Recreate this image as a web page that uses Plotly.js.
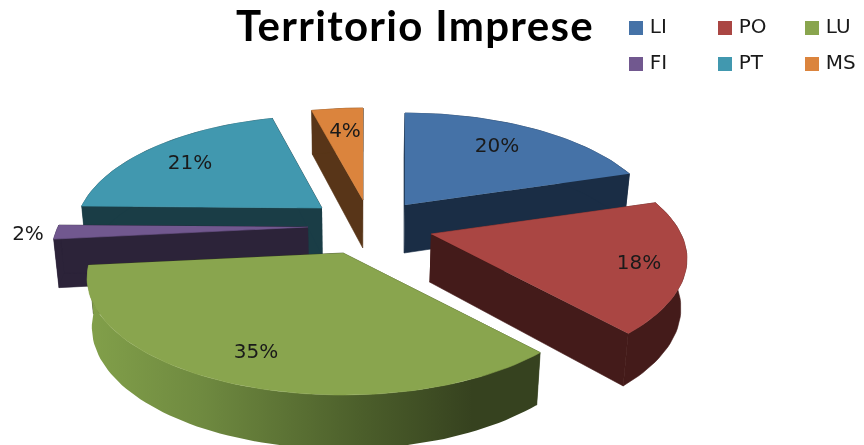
<!DOCTYPE html>
<html><head><meta charset="utf-8">
<script src="https://cdn.plot.ly/plotly-3.0.1.min.js"></script>
<style>html,body{margin:0;padding:0;background:#fff}#c{width:864px;height:445px;filter:blur(0.4px)}.gtitle{letter-spacing:1.3px}</style>
</head><body><div id="c"></div>
<script>
// data
const categories = ['LI','PO','LU','FI','PT','MS'];
const values = [20,18,35,2,21,4];
// style and placement, kept apart from the data
const topColors  = ['#4572A7','#AA4643','#89A54E','#71588F','#4198AF','#DB843D'];
const sideColors = ['#1A2D45','#441B1A','#36421F','#2C2339','#1A3D46','#583518'];
const explodedX = [405,431,343,308,322,363];
const explodedY = [205,234,253,227,208,200];
const sliceScale = [1,1,1,1,0.965,1];
const labelX = [497,639,256,28,190,345];
const labelY = [147,264,353,235,164,132];
const legendX = [636,725,812,636,725,812];
const legendY = [28,28,28,64,64,64];
const drawOrder = [4,5,0,3,1,2];
const RX = 250, RY = 111.6, PERSP = 0.214, DEPTH = 48, SPIN = 1.0*Math.PI/180, VANISH_X = 350, VANISH = 0.018;

const total = values.reduce((a,b)=>a+b,0);
const warp = t => t+SPIN*(1-Math.cos(t));
let run = 0;
const spans = values.map(v=>{const s=[warp(run/total*2*Math.PI),warp((run+v)/total*2*Math.PI)];run+=v;return s;});

function lower(x){return x-VANISH*(x-VANISH_X);}
function rim(i,t,low){
  const s = 1/(1+PERSP*Math.cos(t));
  const x = explodedX[i]+RX*sliceScale[i]*Math.sin(t)*s, y = explodedY[i]-RY*Math.cos(t)*s;
  return low ? [lower(x), y+DEPTH*Math.sqrt(s)] : [x,y];
}
function arc(i,a,b,low){
  const n = Math.max(2,Math.ceil(Math.abs(b-a)/0.03)), out=[];
  for(let k=0;k<=n;k++) out.push(rim(i,a+(b-a)*k/n,low));
  return out;
}
function poly(pts,color,extra){
  return Object.assign({type:'scatter',mode:'lines',x:pts.map(p=>p[0]),y:pts.map(p=>p[1]),
    fill:'toself',fillcolor:color,line:{width:0.6,color:color},hoverinfo:'skip',showlegend:false},extra||{});
}
const traces=[];
drawOrder.forEach(i=>{
  const [a,b]=spans[i], ax=explodedX[i], ay=explodedY[i], side=sideColors[i];
  const apexHi=[ax,ay], apexLo=[lower(ax),ay+DEPTH];
  [a,b].forEach(t=>{
    traces.push(poly([apexHi,rim(i,t,false),rim(i,t,true),apexLo],side));
  });
  const wall=arc(i,a,b,false).concat(arc(i,b,a,true));
  const extra = categories[i]==='LU'
    ? {fillgradient:{type:'horizontal',colorscale:[[0,'#82A04A'],[0.25,'#6F8A40'],[0.6,'#4C5F2B'],[0.85,'#36421F'],[1,'#36421F']]},line:{width:0}}
    : {};
  traces.push(poly(wall,side,extra));
  traces.push(poly([apexHi].concat(arc(i,a,b,false)),topColors[i]));
});
traces.push({type:'scatter',mode:'text',x:labelX,y:labelY,
  text:values.map(v=>Math.round(v/total*100)+'%'),textposition:'middle center',
  textfont:{family:'DejaVu Sans',size:20,color:'#1a1a1a'},hoverinfo:'skip',showlegend:false});
traces.push({type:'scatter',mode:'markers+text',x:legendX,y:legendY,text:categories.map(c=>'\u2009'+c),
  textposition:'middle right',textfont:{family:'DejaVu Sans',size:20,color:'#1a1a1a'},
  marker:{symbol:'square',size:14,color:topColors},hoverinfo:'skip',showlegend:false,cliponaxis:false});

const hidden={visible:false,fixedrange:true};
Plotly.newPlot('c',traces,{
  width:864,height:445,margin:{l:0,r:0,t:0,b:0},
  paper_bgcolor:'#fff',plot_bgcolor:'#fff',showlegend:false,
  title:{text:'<b>Territorio Imprese</b>',x:415/864,xanchor:'center',y:1-26/445,yanchor:'middle',
    font:{family:'Lato',size:42,color:'#000'}},
  xaxis:Object.assign({range:[0,864]},hidden),
  yaxis:Object.assign({range:[445,0]},hidden)
},{displayModeBar:false,staticPlot:true});
</script></body></html>
